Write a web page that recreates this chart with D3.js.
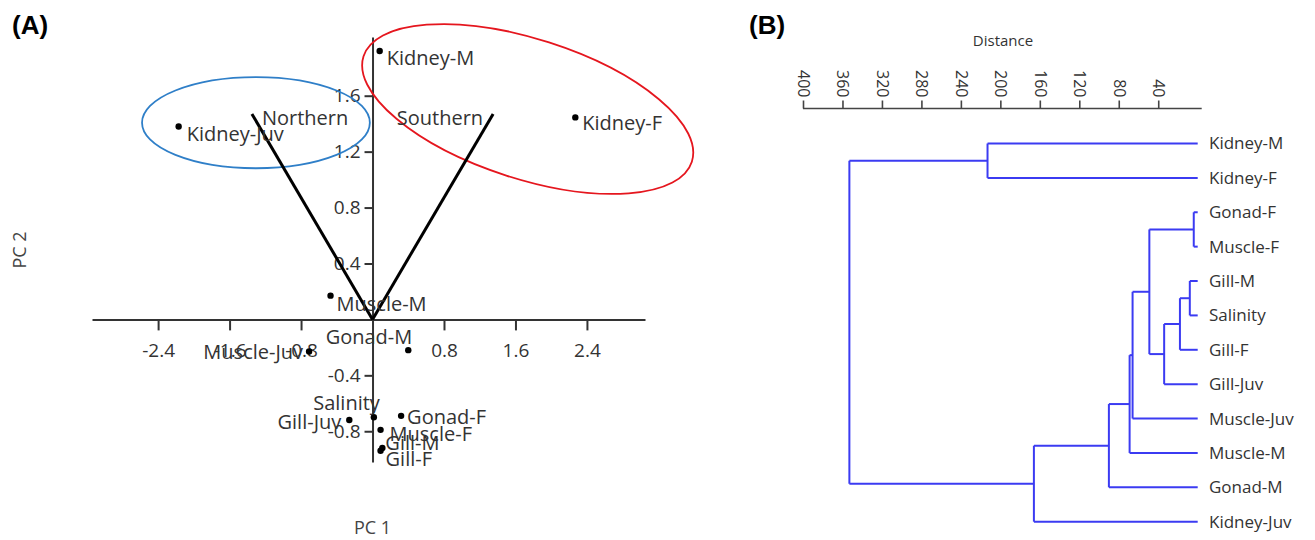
<!DOCTYPE html>
<html>
<head>
<meta charset="utf-8">
<script src="https://cdn.jsdelivr.net/npm/d3@7"></script>
<style>
  body { margin: 0; background: #fff; }
  svg text { font-family: "Open Sans", sans-serif; fill: #333; }
</style>
</head>
<body>
<svg id="chart" width="1315" height="540"></svg>
<script>
// ---- panel A : PCA scores ----
var sampleNames = ["Kidney-M", "Kidney-F", "Kidney-Juv", "Muscle-M", "Muscle-Juv", "Gonad-M",
                   "Salinity", "Gill-Juv", "Gonad-F", "Muscle-F", "Gill-M", "Gill-F"];
var pc1 = [0.08, 2.27, -2.17, -0.47, -0.71, 0.40, 0.015, -0.26, 0.32, 0.09, 0.11, 0.09];
var pc2 = [1.92, 1.445, 1.38, 0.17, -0.23, -0.22, -0.70, -0.72, -0.69, -0.79, -0.92, -0.94];

var vectorNames = ["Northern", "Southern"];
var vec1 = [-1.35, 1.35];
var vec2 = [1.47, 1.47];

var xTicksA = [-2.4, -1.6, -0.8, 0.8, 1.6, 2.4];
var yTicksA = [-0.8, -0.4, 0.4, 0.8, 1.2, 1.6];

// group ellipses (centre and radii in PC units)
var groupColors = ["#2f7fc8", "#e5161e"];
var groupCx = [-1.305, 1.737];
var groupCy = [1.407, 1.505];
var groupRx = [1.275, 1.93];
var groupRy = [0.326, 0.50];
var groupTilt = [0, 17.8];

// ---- panel B : dendrogram ----
var leaves = ["Kidney-M", "Kidney-F", "Gonad-F", "Muscle-F", "Gill-M", "Salinity",
              "Gill-F", "Gill-Juv", "Muscle-Juv", "Muscle-M", "Gonad-M", "Kidney-Juv"];
// [left, right, distance] ; "m3" means the 4th merge below
var merges = [
  ["Kidney-M", "Kidney-F", 213],
  ["Gonad-F", "Muscle-F", 4],
  ["Gill-M", "Salinity", 8],
  ["m2", "Gill-F", 18],
  ["m3", "Gill-Juv", 34],
  ["m1", "m4", 49],
  ["m5", "Muscle-Juv", 66],
  ["m6", "Muscle-M", 69],
  ["m7", "Gonad-M", 90],
  ["m8", "Kidney-Juv", 166],
  ["m0", "m9", 353]
];
var distTicks = [400, 360, 320, 280, 240, 200, 160, 120, 80, 40];

var svg = d3.select("#chart");

// panel letters
svg.append("text").attr("x", 12).attr("y", 34).text("(A)")
  .style("font-family", "'Liberation Sans', Arial").style("font-weight", "bold")
  .style("font-size", "26px").style("fill", "#000");
svg.append("text").attr("x", 749).attr("y", 34).text("(B)")
  .style("font-family", "'Liberation Sans', Arial").style("font-weight", "bold")
  .style("font-size", "26px").style("fill", "#000");

// ================= panel A =================
var x = d3.scaleLinear().domain([-3.14, 3.05]).range([92, 645]);
var y = d3.scaleLinear().domain([-1.02, 2.02]).range([462, 37]);

var gA = svg.append("g");

var fmt = d => d.toFixed(1);
var xAxis = d3.axisBottom(x).tickValues(xTicksA).tickSize(11).tickSizeOuter(0)
  .tickPadding(13).tickFormat(fmt);
var yAxis = d3.axisLeft(y).tickValues(yTicksA).tickSize(8).tickSizeOuter(0)
  .tickPadding(4).tickFormat(fmt);

var xg = gA.append("g").attr("transform", "translate(0," + y(0) + ")").call(xAxis);
var yg = gA.append("g").attr("transform", "translate(" + x(0) + ",0)").call(yAxis);
[xg, yg].forEach(function(g) {
  g.attr("color", "#333").attr("font-family", null).attr("font-size", null);
  g.selectAll("path, line").attr("stroke-width", 2);
  g.selectAll("text").style("font-size", "19px");
});

// ellipses
gA.selectAll("ellipse.grp")
  .data(groupColors)
  .enter().append("ellipse")
    .attr("class", "grp")
    .attr("cx", (d, i) => x(groupCx[i]))
    .attr("cy", (d, i) => y(groupCy[i]))
    .attr("rx", (d, i) => x(groupRx[i]) - x(0))
    .attr("ry", (d, i) => y(0) - y(groupRy[i]))
    .attr("transform", (d, i) => "rotate(" + groupTilt[i] + "," + x(groupCx[i]) + "," + y(groupCy[i]) + ")")
    .attr("fill", "none")
    .attr("stroke", d => d)
    .attr("stroke-width", 1.8);

// vectors
gA.selectAll("line.vec")
  .data(vectorNames)
  .enter().append("line")
    .attr("class", "vec")
    .attr("x1", x(0)).attr("y1", y(0))
    .attr("x2", (d, i) => x(vec1[i]))
    .attr("y2", (d, i) => y(vec2[i]))
    .attr("stroke", "#000")
    .attr("stroke-width", 3);

gA.selectAll("text.vec")
  .data(vectorNames)
  .enter().append("text")
    .attr("class", "vec")
    .attr("x", (d, i) => x(vec1[i]) + (i === 0 ? 10 : -10))
    .attr("y", (d, i) => y(vec2[i]) + 4)
    .attr("dy", "0.35em")
    .attr("text-anchor", (d, i) => i === 0 ? "start" : "end")
    .style("font-size", "20px")
    .text(d => d);

// score points
var labelNudge = {
  "Kidney-M":   ["start", 7, 7],
  "Kidney-F":   ["start", 7, 6],
  "Kidney-Juv": ["start", 8, 8],
  "Muscle-M":   ["start", 6, 8],
  "Gonad-M":    ["end", 4, -13],
  "Muscle-Juv": ["end", -6, 0],
  "Salinity":   ["end", 6, -14],
  "Gill-Juv":   ["end", -8, 2],
  "Gonad-F":    ["start", 6, 1],
  "Muscle-F":   ["start", 9, 4],
  "Gill-M":     ["start", 3, -5],
  "Gill-F":     ["start", 5, 8]
};

gA.selectAll("circle.pt")
  .data(sampleNames)
  .enter().append("circle")
    .attr("class", "pt")
    .attr("cx", (d, i) => x(pc1[i]))
    .attr("cy", (d, i) => y(pc2[i]))
    .attr("r", 3.2)
    .attr("fill", "#000");

gA.selectAll("text.pt")
  .data(sampleNames)
  .enter().append("text")
    .attr("class", "pt")
    .attr("x", (d, i) => x(pc1[i]) + labelNudge[d][1])
    .attr("y", (d, i) => y(pc2[i]) + labelNudge[d][2])
    .attr("dy", "0.35em")
    .attr("text-anchor", d => labelNudge[d][0])
    .style("font-size", "20px")
    .text(d => d);

gA.append("text").attr("x", x(0)).attr("y", 534).attr("text-anchor", "middle")
  .style("font-size", "18px").style("fill", "#444").text("PC 1");
gA.append("text").attr("transform", "translate(26,250) rotate(-90)").attr("text-anchor", "middle")
  .style("font-size", "18px").style("fill", "#444").text("PC 2");

// ================= panel B =================
var xd = d3.scaleLinear().domain([400, 0]).range([803, 1197.7]);
var yd = d3.scalePoint().domain(leaves).range([143.5, 521.7]);

var gB = svg.append("g");

var dAxis = d3.axisTop(xd).tickValues(distTicks).tickSize(8).tickSizeOuter(0);
var dg = gB.append("g").attr("transform", "translate(0,108.5)").call(dAxis);
dg.attr("color", "#444").attr("font-family", null).attr("font-size", null);
dg.selectAll("path, line").attr("stroke-width", 1.6);
dg.select(".domain").attr("d", "M" + xd(400) + ",0H" + (xd(0) + 4));
dg.selectAll("text")
  .attr("x", -11).attr("y", 0).attr("dy", "0.35em")
  .attr("text-anchor", "end")
  .attr("transform", "rotate(90)")
  .style("font-size", "16px");

gB.append("text").attr("x", 1003).attr("y", 46).attr("text-anchor", "middle")
  .style("font-size", "15px").text("Distance");

// build node positions
var nodes = {};
leaves.forEach(function(n) { nodes[n] = { x: xd(0), y: yd(n) }; });
merges.forEach(function(m, i) {
  var a = nodes[m[0]], b = nodes[m[1]];
  nodes["m" + i] = { x: xd(m[2]), y: (a.y + b.y) / 2, kids: [a, b] };
});

var linkColor = "#3b3bf2";
merges.forEach(function(m, i) {
  var n = nodes["m" + i];
  gB.append("line")
    .attr("x1", n.x).attr("x2", n.x)
    .attr("y1", n.kids[0].y).attr("y2", n.kids[1].y)
    .attr("stroke", linkColor).attr("stroke-width", 2);
  n.kids.forEach(function(k) {
    gB.append("line")
      .attr("x1", n.x).attr("x2", k.x)
      .attr("y1", k.y).attr("y2", k.y)
      .attr("stroke", linkColor).attr("stroke-width", 2);
  });
});

gB.selectAll("text.leaf")
  .data(leaves)
  .enter().append("text")
    .attr("class", "leaf")
    .attr("x", 1209)
    .attr("y", d => yd(d))
    .attr("dy", "0.35em")
    .style("font-size", "17px")
    .text(d => d);
</script>
</body>
</html>
